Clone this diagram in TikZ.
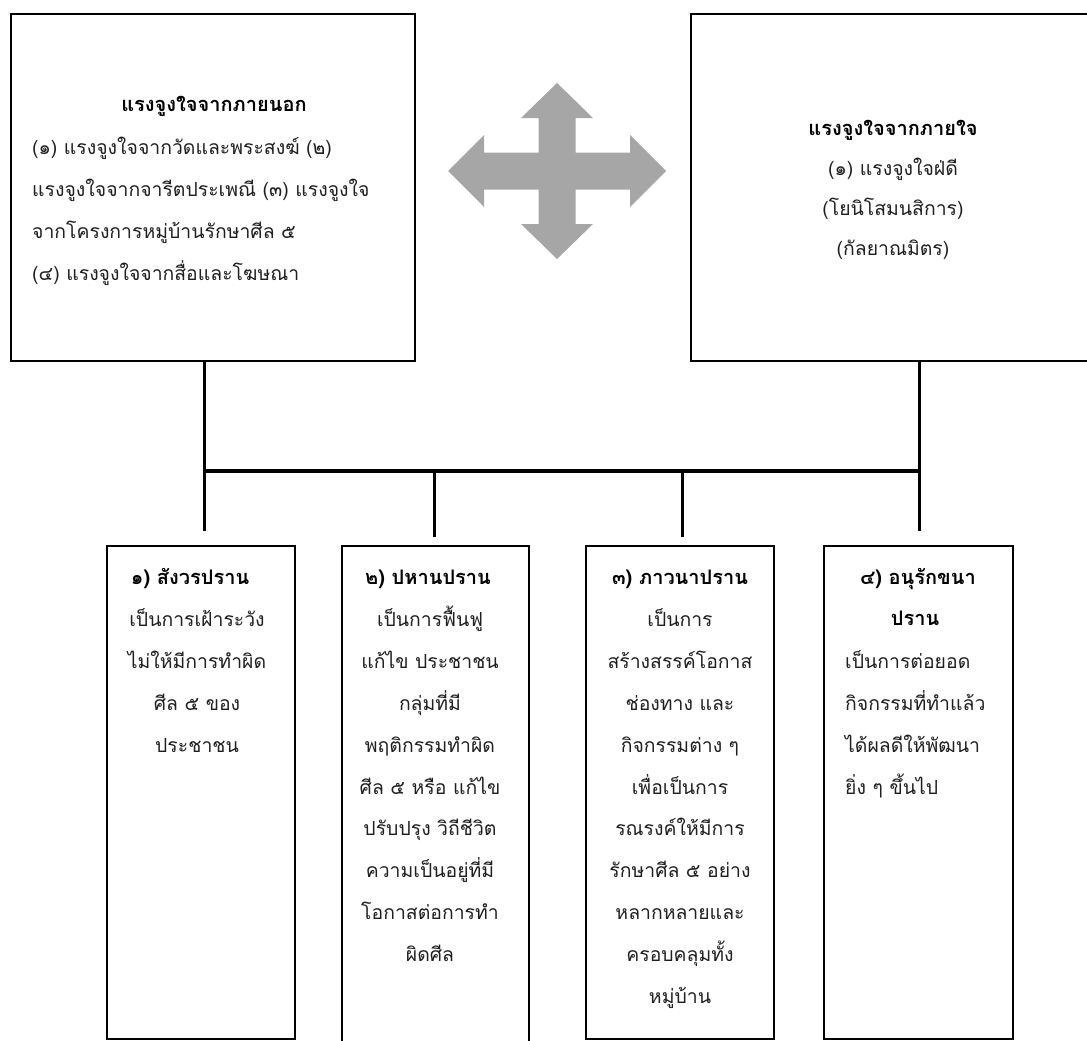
\documentclass[tikz,border=0pt]{standalone}
\usepackage{fontspec}
\newfontfamily\thaifont[Script=Thai]{Loma}
\newcommand\thaibody{\thaifont\fontsize{19.4}{24}\selectfont}
\newcommand\thaibold{\thaifont\bfseries\fontsize{20}{24}\selectfont}
\tikzset{
  box/.style={draw, line width=2.4pt, inner sep=0pt},
  tl/.style={font=\thaibody, anchor=base, inner sep=0pt, text=black!88},
  tlw/.style={font=\thaibody, anchor=base west, inner sep=0pt, text=black!88},
  tb/.style={font=\thaibold, anchor=base, inner sep=0pt},
  link/.style={line width=3pt},
  bus/.style={line width=4pt},
  bigarrow/.style={fill=black!35, draw=none},
}
\begin{document}
\begin{tikzpicture}[x=1pt,y=-1pt]
\useasboundingbox (0,0) rectangle (1087,1041);
% top boxes
\node[box, minimum width=404pt, minimum height=347pt] (lbox) at (213,187.5) {};
\node[box, minimum width=420pt, minimum height=347pt] (rbox) at (901,187.5) {};
% bottom boxes
\node[box, minimum width=188pt, minimum height=493pt] (b1) at (201,792.5) {};
\node[box, minimum width=187pt, minimum height=560pt] (b2) at (435.5,826) {};
\node[box, minimum width=188pt, minimum height=493pt] (b3) at (680,792.5) {};
\node[box, minimum width=189pt, minimum height=493pt] (b4) at (918.5,792.5) {};
% four-way arrow
\fill[bigarrow] (666,171) -- (630,135) -- (630,152.5) -- (575.5,152.5) -- (575.5,118) -- (593,118) -- (557,83)
 -- (521,118) -- (538.5,118) -- (538.5,152.5) -- (484,152.5) -- (484,135) -- (448,171) -- (484,207)
 -- (484,189.5) -- (538.5,189.5) -- (538.5,224) -- (521,224) -- (557,259) -- (593,224) -- (575.5,224)
 -- (575.5,189.5) -- (630,189.5) -- (630,207) -- cycle;
% connectors
\coordinate (jl) at (204,471);
\coordinate (jr) at (919,471);
\coordinate (e1) at (204,531);
\coordinate (e2) at (434,537);
\coordinate (e3) at (682,537);
\coordinate (e4) at (919,531);
\coordinate (j2) at (434,471);
\coordinate (j3) at (682,471);
\draw[link] (lbox.south -| jl) -- (e1);
\draw[link] (rbox.south -| jr) -- (e4);
\draw[bus] (jl) -- (jr);
\draw[link] (j2) -- (e2);
\draw[link] (j3) -- (e3);
% left box text
\node[tb] (lt) at (214,111) {แรงจูงใจจากภายนอก};
\foreach [count=\i] \t in {(๑) แรงจูงใจจากวัดและพระสงฆ์ (๒), แรงจูงใจจากจารีตประเพณี (๓) แรงจูงใจ, จากโครงการหมู่บ้านรักษาศีล ๕, (๔) แรงจูงใจจากสื่อและโฆษณา}
  \node[tlw] (ll\i) at (32,{112+\i*42}) {\t};
% right box text
\node[tb] (rt) at (893,135) {แรงจูงใจจากภายใจ};
\foreach [count=\i] \t in {(๑) แรงจูงใจฝ่ดี, (โยนิโสมนสิการ), (กัลยาณมิตร)}
  \node[tl] (rl\i) at (893,{135+\i*40}) {\t};
% box 1
\node[tb] (t1) at (190,584) {๑) สังวรปราน};
\foreach [count=\i] \t in {เป็นการเฝ้าระวัง, ไม่ให้มีการทำผิด, ศีล ๕ ของ, ประชาชน}
  \node[tl] (l1\i) at (197,{585+\i*41.8}) {\t};
% box 2
\node[tb] (t2) at (428,584) {๒) ปหานปราน};
\foreach [count=\i] \t in {เป็นการฟื้นฟู, แก้ไข ประชาชน, กลุ่มที่มี, พฤติกรรมทำผิด, ศีล ๕ หรือ แก้ไข, ปรับปรุง วิถีชีวิต, ความเป็นอยู่ที่มี, โอกาสต่อการทำ, ผิดศีล}
  \node[tl] (l2\i) at (430,{585+\i*41.8}) {\t};
% box 3
\node[tb] (t3) at (680,584) {๓) ภาวนาปราน};
\foreach [count=\i] \t in {เป็นการ, สร้างสรรค์โอกาส, ช่องทาง และ, กิจกรรมต่าง ๆ, เพื่อเป็นการ, รณรงค์ให้มีการ, รักษาศีล ๕ อย่าง, หลากหลายและ, ครอบคลุมทั้ง, หมู่บ้าน}
  \node[tl] (l3\i) at (680,{585+\i*41.8}) {\t};
% box 4
\node[tb] (t4a) at (918,584) {๔) อนุรักขนา};
\node[tb] (t4b) at (915,625.8) {ปราน};
\foreach [count=\i] \t in {เป็นการต่อยอด, กิจกรรมที่ทำแล้ว, ได้ผลดีให้พัฒนา, ยิ่ง ๆ ขึ้นไป}
  \node[tlw] (l4\i) at (845,{626.8+\i*41.8}) {\t};
\end{tikzpicture}
\end{document}
